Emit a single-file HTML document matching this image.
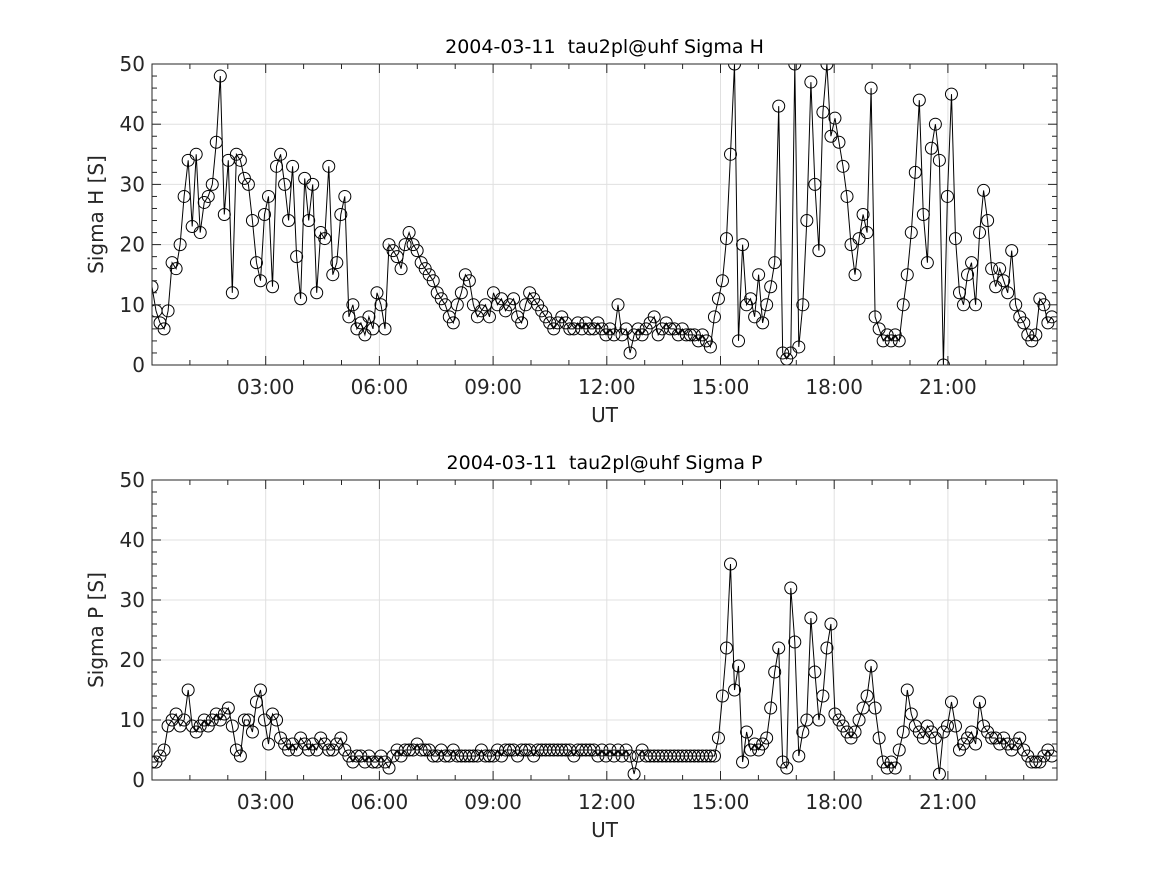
<!DOCTYPE html>
<html><head><meta charset="utf-8"><style>
html,body{margin:0;padding:0;background:#fff;}
svg{display:block;font-family:"DejaVu Sans","Liberation Sans",sans-serif;}
</style></head><body>
<svg id="fig" width="1167" height="875" viewBox="0 0 1167 875" xmlns="http://www.w3.org/2000/svg"></svg>
<script>
const xTickLabels = ["03:00","06:00","09:00","12:00","15:00","18:00","21:00"];
const xTickHours = [3,6,9,12,15,18,21];
const yTicks = [0,10,20,30,40,50];
const timeStep = 0.106;
const sigmaH = [
13,9,7,6,9,17,16,20,28,34,
23,35,22,27,28,30,37,48,25,34,
12,35,34,31,30,24,17,14,25,28,
13,33,35,30,24,33,18,11,31,24,
30,12,22,21,33,15,17,25,28,8,
10,6,7,5,8,6,12,10,6,20,
19,18,16,20,22,20,19,17,16,15,
14,12,11,10,8,7,10,12,15,14,
10,8,9,10,8,12,10,11,9,10,
11,8,7,10,12,11,10,9,8,7,
6,7,8,7,6,6,7,6,7,6,
6,7,6,5,6,5,10,5,6,2,
5,6,5,6,7,8,5,6,7,6,
6,5,6,5,5,5,4,5,4,3,
8,11,14,21,35,50,4,20,10,11,
8,15,7,10,13,17,43,2,1,2,
50,3,10,24,47,30,19,42,50,38,
41,37,33,28,20,15,21,25,22,46,
8,6,4,5,4,5,4,10,15,22,
32,44,25,17,36,40,34,0,28,45,
21,12,10,15,17,10,22,29,24,16,
13,16,14,12,19,10,8,7,5,4,
5,11,10,7,8];
const sigmaP = [
3,3,4,5,9,10,11,9,10,15,
9,8,9,10,9,10,11,10,11,12,
9,5,4,10,10,8,13,15,10,6,
11,10,7,6,5,6,5,7,6,5,
6,5,7,6,5,5,6,7,5,4,
3,4,4,3,4,3,3,4,3,2,
4,5,4,5,5,5,6,5,5,5,
4,4,5,4,4,5,4,4,4,4,
4,4,5,4,4,4,5,4,5,5,
5,4,5,5,5,4,5,5,5,5,
5,5,5,5,5,4,5,5,5,5,
5,4,5,4,5,4,5,4,5,4,
1,4,5,4,4,4,4,4,4,4,
4,4,4,4,4,4,4,4,4,4,
4,7,14,22,36,15,19,3,8,5,
6,5,6,7,12,18,22,3,2,32,
23,4,8,10,27,18,10,14,22,26,
11,10,9,8,7,8,10,12,14,19,
12,7,3,2,3,2,5,8,15,11,
9,8,7,9,8,7,1,8,9,13,
9,5,6,7,8,6,13,9,8,7,
7,6,7,6,5,6,7,5,4,3,
3,3,4,5,4];

const NS="http://www.w3.org/2000/svg";
const svg=document.getElementById('fig');
function mk(tag,attrs,parent){const e=document.createElementNS(NS,tag);for(const k in attrs)e.setAttribute(k,attrs[k]);(parent||svg).appendChild(e);return e;}

function drawPanel(id,top,bottom,title,ylabel,data){
  const L=152,R=1057,pxh=37.9;
  const xs=h=>L+h*pxh;
  const ys=v=>bottom-(v/50)*(bottom-top);
  const g=mk('g',{});
  
  
  mk('rect',{x:L,y:top,width:R-L,height:bottom-top,fill:'#fff'},g);
  xTickHours.forEach(h=>{const l=mk('line',{x1:xs(h),x2:xs(h),y1:top,y2:bottom,stroke:'#e0e0e0','stroke-width':1},g);});
  yTicks.forEach(v=>{const l=mk('line',{x1:L,x2:R,y1:ys(v),y2:ys(v),stroke:'#e0e0e0','stroke-width':1},g);});
  const cid='clip-'+id;
  const cp=mk('clipPath',{id:cid},g);mk('rect',{x:L,y:top,width:R-L,height:bottom-top},cp);
  const sg=mk('g',{'clip-path':'url(#'+cid+')'},g);
  
  
  let d='';data.forEach((v,i)=>{d+=(i?'L':'M')+xs(i*timeStep).toFixed(1)+' '+ys(v).toFixed(1);});
  const p=mk('path',{d:d,fill:'none',stroke:'#000','stroke-width':1},sg);
  
  
  data.forEach((v,i)=>{const c=mk('circle',{cx:xs(i*timeStep),cy:ys(v),r:6,fill:'none',stroke:'#000','stroke-width':1},sg);
    
    });
  mk('rect',{x:L,y:top,width:R-L,height:bottom-top,fill:'none',stroke:'#262626','stroke-width':1},g);
  for(let h=1;h<24;h++){const len=(h%3===0)?9:5;
    mk('line',{x1:xs(h),x2:xs(h),y1:bottom,y2:bottom-len,stroke:'#262626'},g);
    mk('line',{x1:xs(h),x2:xs(h),y1:top,y2:top+len,stroke:'#262626'},g);}
  xTickHours.forEach((h,i)=>{
    const t=mk('text',{x:xs(h),y:bottom+29,'text-anchor':'middle','font-size':20,fill:'#262626'},g);t.textContent=xTickLabels[i];
    
  });
  for(let v=0;v<=50;v+=2){const len=(v%10===0)?9:5;
    mk('line',{x1:L,x2:L+len,y1:ys(v),y2:ys(v),stroke:'#262626'},g);
    mk('line',{x1:R,x2:R-len,y1:ys(v),y2:ys(v),stroke:'#262626'},g);}
  yTicks.forEach(v=>{const t=mk('text',{x:L-7,y:ys(v)+7,'text-anchor':'end','font-size':20,fill:'#262626'},g);t.textContent=v;
    });
  const tt=mk('text',{x:(L+R)/2,y:top-11,'text-anchor':'middle','font-size':19,fill:'#000','xml:space':'preserve'},g);tt.textContent=title;
  
  const xl=mk('text',{x:(L+R)/2,y:bottom+57,'text-anchor':'middle','font-size':20,fill:'#262626'},g);xl.textContent='UT';
  
  const yc=(top+bottom)/2;
  const yl=mk('text',{x:103,y:yc,'text-anchor':'middle','font-size':20,fill:'#262626',transform:'rotate(-90 103 '+yc+')'},g);yl.textContent=ylabel;
  
}
drawPanel('sigma-h',64,365,'2004-03-11\u00a0\u00a0tau2pl@uhf Sigma H','Sigma H [S]',sigmaH);
drawPanel('sigma-p',480,780,'2004-03-11\u00a0\u00a0tau2pl@uhf Sigma P','Sigma P [S]',sigmaP);
</script>
</body></html>
